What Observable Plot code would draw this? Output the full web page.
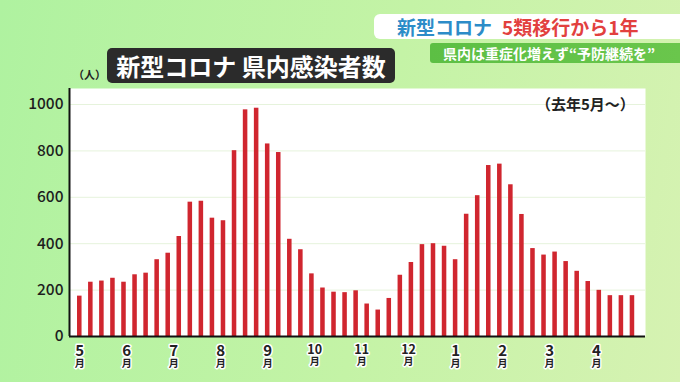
<!DOCTYPE html>
<html>
<head>
<meta charset="utf-8">
<script src="https://cdn.jsdelivr.net/npm/d3@7"></script>
<script src="https://cdn.jsdelivr.net/npm/@observablehq/plot@0.6"></script>
<style>
  html, body { margin: 0; padding: 0; }
  body { width: 680px; height: 382px; overflow: hidden; }
  #frame {
    position: relative; width: 680px; height: 382px; overflow: hidden;
    background: linear-gradient(100deg, #aff2a0 0%, #c4f3a6 55%, #d6f2b2 100%);
    font-family: "Noto Sans CJK JP", "Noto Sans", sans-serif;
  }
  #chart { position: absolute; left: 0; top: 0; }
  #chart svg { background: transparent !important; }
  .ov { position: absolute; white-space: nowrap; font-weight: 700; }
  #title {
    left: 107px; top: 48px; width: 288px; height: 35px; line-height: 35px;
    background: #2b2b2b; color: #fff; border-radius: 5px; font-size: 24px;
    text-align: center; letter-spacing: 0px;
  }
  #unit { left: 73px; top: 66px; font-size: 11px; color: #222; }
  #since { left: 536px; top: 93px; font-size: 15px; color: #222; }
  #banner {
    left: 374px; top: 14px; width: 306px; height: 25px; line-height: 25px;
    background: #ffffff; border-radius: 6px 0 0 6px; font-size: 19px;
    padding-left: 23px; box-sizing: border-box;
  }
  #banner .b { color: #2c8cc8; }
  #banner .r { color: #e2403e; margin-left: 10px; }
  #sub {
    left: 430px; top: 43px; width: 250px; height: 20px; line-height: 20px;
    background: linear-gradient(90deg, #5cbf44, #6ac64c); color: #fff;
    font-size: 14px; padding-left: 13px; box-sizing: border-box;
    border-radius: 3px 0 0 3px;
  }
  .month-label tspan + tspan { font-size: 10px; }
</style>
</head>
<body>
<div id="frame">
  <div id="chart"></div>
  <div class="ov" id="title">新型コロナ 県内感染者数</div>
  <div class="ov" id="unit">（人）</div>
  <div class="ov" id="since">（去年5月〜）</div>
  <div class="ov" id="banner"><span class="b">新型コロナ</span><span class="r">5類移行から1年</span></div>
  <div class="ov" id="sub">県内は重症化増えず“予防継続を”</div>
</div>
<script>
// Weekly infections (people), week of 2023-05-08 onward
const weeklyCases = [
  174, 234, 239, 251, 234, 266, 273, 331, 359, 431,
  579, 583, 510, 499, 801, 977, 984, 830, 793, 419,
  374, 270, 209, 191, 189, 197, 140, 114, 164, 264,
  319, 396, 400, 389, 331, 527, 607, 737, 743, 654,
  526, 379, 351, 364, 323, 281, 237, 199, 176, 176,
  176
];
const monthLabels = ["5", "6", "7", "8", "9", "10", "11", "12", "1", "2", "3", "4"];
const yTicks = [0, 200, 400, 600, 800, 1000];

const data = weeklyCases.map((v, i) => ({i, v}));
const months = monthLabels.map((m, k) => ({m, pos: k * weeklyCases.length / 12}));

const half = 0.205;
const xDomain = [-0.93, weeklyCases.length - 1 + 1.18];

const chart = Plot.plot({
  width: 680,
  height: 382,
  marginLeft: 69,
  marginRight: 35,
  marginTop: 88,
  marginBottom: 46,
  style: {background: "transparent", fontFamily: "'Noto Sans CJK JP', 'Noto Sans', sans-serif", overflow: "visible"},
  x: {domain: xDomain, axis: null},
  y: {domain: [0, 1069], ticks: yTicks, axis: null},
  marks: [
    Plot.frame({fill: "white", stroke: null}),
    Plot.gridY(yTicks.filter(t => t > 0), {stroke: "#e6f3dc", strokeOpacity: 1, strokeWidth: 1}),
    Plot.rectY(data, {x1: d => d.i - half, x2: d => d.i + half, y: "v", fill: "#d0262f"}),
    Plot.axisY(yTicks, {tickSize: 0, tickPadding: 6, fontSize: 15.5, fontWeight: 500, fill: "#1e1e1e",
      textAnchor: "end", label: null, tickFormat: d => String(d)}),
    Plot.ruleY([0], {stroke: "#111", strokeWidth: 2}),
    Plot.ruleX([xDomain[0]], {stroke: "#111", strokeWidth: 2}),
    Plot.text(months, {
      x: "pos", text: d => d.m + "\n月", frameAnchor: "bottom", lineAnchor: "top", dy: 7,
      lineHeight: 1.15, className: "month-label",
      fontSize: 15, fontWeight: 700, fill: "#222",
      stroke: "white", strokeWidth: 3, paintOrder: "stroke"
    })
  ]
});
document.getElementById("chart").appendChild(chart);
// two-digit month numbers are drawn narrower, as in the broadcast graphic
chart.querySelectorAll("text").forEach(t => {
  const first = t.querySelector("tspan");
  if (first && /^\d\d$/.test(first.textContent)) first.setAttribute("font-size", "12.5");
});
</script>
</body>
</html>
